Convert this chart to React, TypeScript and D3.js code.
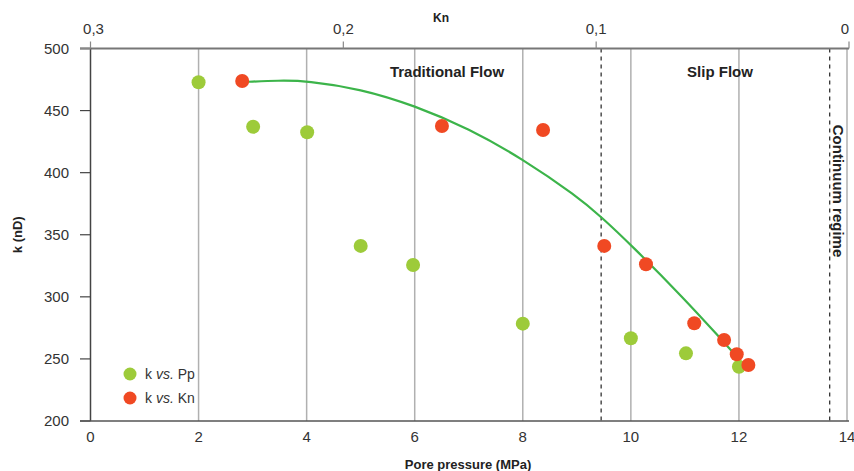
import React from "react";
import * as d3 from "d3";

const ppTicks = [0, 2, 4, 6, 8, 10, 12, 14];
const knTicks = [0.3, 0.2, 0.1, 0];
const kTicks = [200, 250, 300, 350, 400, 450, 500];
const gridPp = [2, 4, 6, 8, 10, 12, 14];
const regimeBounds = [9.45, 13.68];

const greenPp = [2.0, 3.01, 4.01, 5.0, 5.97, 8.0, 10.0, 11.02, 12.0];
const greenK = [472.8, 437, 432.5, 341, 325.6, 278.4, 266.6, 254.5, 243.7];

const redKn = [0.24, 0.161, 0.121, 0.0968, 0.0803, 0.0612, 0.0494, 0.0444, 0.0398];
const redK = [473.8, 437.6, 434.4, 341, 326.2, 278.7, 265.2, 253.7, 245.1];

const fitPp = [2.82, 3.5, 4.0, 5.0, 6.0, 7.0, 8.0, 9.0, 9.45, 10.0, 11.0, 11.65, 11.88];
const fitK = [473, 474.3, 474, 467.5, 454, 435.5, 411, 381, 364.5, 342, 298, 266.9, 255.8];

const W = 854;
const H = 471;
const GREEN = "#9dcb3a";
const RED = "#f04923";
const FONT = "'Liberation Sans', Arial, sans-serif";

export default function App() {
  const x = d3.scaleLinear().domain([0, 14]).range([90.5, 847]);
  const xKn = d3.scaleLinear().domain([0.3, 0]).range([90.5, 849]);
  const y = d3.scaleLinear().domain([200, 500]).range([421, 48.5]);

  const fitLine = d3
    .line<number>()
    .x((_, i) => x(fitPp[i]))
    .y((d) => y(d))
    .curve(d3.curveBasis);

  const top = y(500);
  const bottom = y(200);

  return (
    <svg
      width={W}
      height={H}
      style={{ position: "absolute", left: 0, top: 0, background: "#fff" }}
      fontFamily={FONT}
    >
      {/* vertical grid */}
      {gridPp.map((v) => (
        <line key={"g" + v} x1={x(v)} x2={x(v)} y1={top} y2={bottom} stroke="#b0b0b0" strokeWidth={1.5} />
      ))}
      {/* regime boundaries */}
      {regimeBounds.map((v) => (
        <line key={"r" + v} x1={x(v)} x2={x(v)} y1={top} y2={bottom} stroke="#222" strokeWidth={1.2} strokeDasharray="4,4" />
      ))}

      {/* top axis */}
      <line x1={90.5} x2={849} y1={top} y2={top} stroke="#777" strokeWidth={2} />
      {knTicks.map((t) => (
        <g key={"kn" + t}>
          <line x1={xKn(t)} x2={xKn(t)} y1={top} y2={top - 7} stroke="#888" strokeWidth={1.2} />
          <text
            x={t === 0 ? xKn(t) - 4 : t === 0.3 ? xKn(t) + 3 : xKn(t)}
            y={top - 15}
            textAnchor="middle"
            fontSize={15}
            fill="#333"
          >
            {String(t).replace(".", ",")}
          </text>
        </g>
      ))}
      <text x={441} y={22} textAnchor="middle" fontSize={12} fontWeight="bold" fill="#222">
        Kn
      </text>

      {/* left axis */}
      <line x1={90.5} x2={90.5} y1={top} y2={bottom} stroke="#444" strokeWidth={1.5} />
      {kTicks.map((t) => (
        <g key={"k" + t}>
          <line x1={80} x2={90.5} y1={y(t)} y2={y(t)} stroke={t === 500 ? "#888" : "#444"} strokeWidth={t === 500 ? 2.5 : 1.2} />
          <text x={69} y={y(t) + 5} textAnchor="end" fontSize={15} fill="#333">
            {t}
          </text>
        </g>
      ))}
      <text
        transform={`translate(22,${(top + bottom) / 2}) rotate(-90)`}
        textAnchor="middle"
        fontSize={13}
        fontWeight="bold"
        fill="#222"
      >
        k (nD)
      </text>

      {/* bottom axis */}
      <line x1={80} x2={849} y1={bottom} y2={bottom} stroke="#555" strokeWidth={1.5} />
      {ppTicks.map((t) => (
        <text key={"p" + t} x={x(t)} y={bottom + 21} textAnchor="middle" fontSize={15} fill="#333">
          {t}
        </text>
      ))}
      <text x={468} y={469} textAnchor="middle" fontSize={13} fontWeight="bold" fill="#222">
        Pore pressure (MPa)
      </text>

      {/* region labels */}
      <text x={447} y={77} textAnchor="middle" fontSize={15} fontWeight="bold" fill="#222">
        Traditional Flow
      </text>
      <text x={720} y={77} textAnchor="middle" fontSize={15} fontWeight="bold" fill="#222">
        Slip Flow
      </text>
      <text
        transform={`translate(833,${191}) rotate(90)`}
        textAnchor="middle"
        fontSize={15}
        fontWeight="bold"
        fill="#222"
      >
        Continuum regime
      </text>

      {/* fitted curve */}
      <path d={fitLine(fitK) || ""} fill="none" stroke="#3cb44a" strokeWidth={2.2} />

      {/* green points */}
      {greenK.map((k, i) => (
        <circle key={"gp" + i} cx={x(greenPp[i])} cy={y(k)} r={7} fill={GREEN} />
      ))}
      {/* red points */}
      {redK.map((k, i) => (
        <circle key={"rp" + i} cx={xKn(redKn[i])} cy={y(k)} r={7} fill={RED} />
      ))}

      {/* legend */}
      <circle cx={130} cy={374} r={6.5} fill={GREEN} />
      <text x={145} y={379} fontSize={14} fill="#333">
        k <tspan fontStyle="italic">vs.</tspan> Pp
      </text>
      <circle cx={130} cy={398} r={6.5} fill={RED} />
      <text x={145} y={403} fontSize={14} fill="#333">
        k <tspan fontStyle="italic">vs.</tspan> Kn
      </text>
    </svg>
  );
}
